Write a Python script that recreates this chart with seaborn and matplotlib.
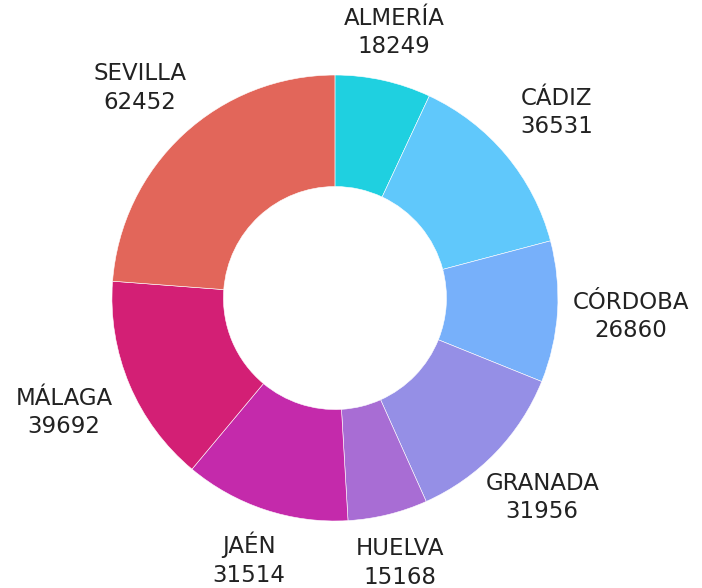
import numpy as np
import matplotlib
matplotlib.use("Agg")
import matplotlib.pyplot as plt
import seaborn as sns

# Data
provincias = ['ALMERÍA', 'CÁDIZ', 'CÓRDOBA', 'GRANADA', 'HUELVA', 'JAÉN', 'MÁLAGA', 'SEVILLA']
valores = [18249, 36531, 26860, 31956, 15168, 31514, 39692, 62452]
colores = ['#1fd0e0', '#60c8fb', '#77b0fa', '#958fe6', '#a86dd4', '#c42aab', '#d31f75', '#e2665a']

sns.set_theme(style="white")
plt.rcParams['font.family'] = ['DejaVu Sans']

fig = plt.figure(figsize=(7.02, 5.88), dpi=100)
ax = fig.add_axes([0, 0, 1, 1])

wedges, _ = ax.pie(valores, colors=colores, startangle=90, counterclock=False,
                   radius=1.0, wedgeprops=dict(width=0.5, edgecolor='white', linewidth=0.4))

# labels outside each wedge
for w, nombre, v in zip(wedges, provincias, valores):
    ang = np.deg2rad((w.theta1 + w.theta2) / 2)
    r = 1.19 + 0.14 * abs(np.cos(ang))
    ax.text(r * np.cos(ang), r * np.sin(ang), f"{nombre}\n{v}",
            ha='center', va='center', fontsize=16.5, color='#222222',
            linespacing=1.3)

ax.set_xlim(-1.502, 1.646)
ax.set_ylim(-1.300, 1.336)
ax.set_aspect('equal')
ax.axis('off')

fig.savefig('out.png', dpi=100)
